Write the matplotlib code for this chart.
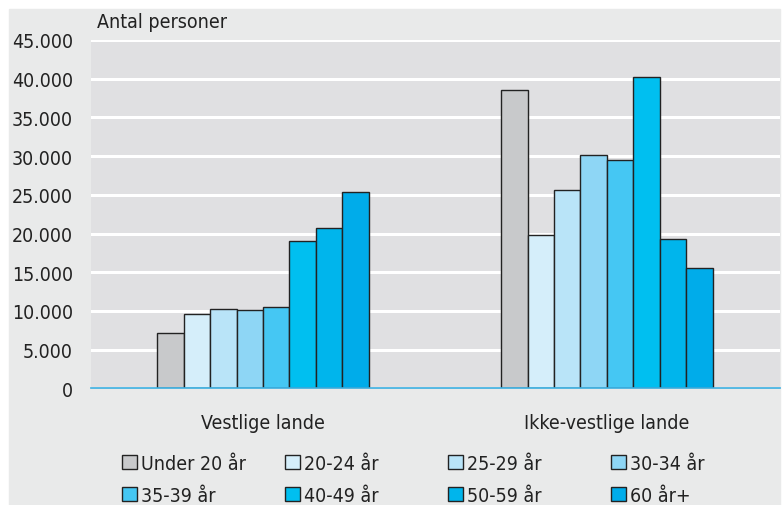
import matplotlib.pyplot as plt
import numpy as np
from matplotlib.patches import Rectangle

plt.rcParams['font.family'] = ['DejaVu Sans']
plt.rcParams['font.stretch'] = 'condensed'

# data
groups = ["Vestlige lande", "Ikke-vestlige lande"]
age_labels = ["Under 20 år", "20-24 år", "25-29 år", "30-34 år",
              "35-39 år", "40-49 år", "50-59 år", "60 år+"]
vestlige = [7200, 9600, 10250, 10150, 10500, 19000, 20700, 25300]
ikke_vestlige = [38500, 19800, 25600, 30100, 29500, 40200, 19300, 15500]
colors = ["#c8c9cb", "#d5eefa", "#b9e4f8", "#8ed6f5",
          "#45c7f3", "#00bff0", "#00b5ec", "#00acea"]
yticks = np.arange(0, 45001, 5000)

fs = 14

fig = plt.figure(figsize=(7.83, 5.06), dpi=100, facecolor="white")
# light gray panel behind everything (thin white strip top, left, right)
fig.patches.append(Rectangle((9 / 783, 0), 771 / 783, (506 - 10) / 506,
                             transform=fig.transFigure, color="#e9eaea", zorder=-10))

ax = fig.add_axes([91 / 783, 116.7 / 506, 689 / 783, 348.3 / 506])
ax.set_facecolor("#e0e0e2")

x = np.arange(len(groups))
w = 0.077
n = len(age_labels)
bars = []
for i in range(n):
    vals = [vestlige[i], ikke_vestlige[i]]
    b = ax.bar(x + (i - (n - 1) / 2) * w, vals, width=w, color=colors[i],
               edgecolor="#222222", linewidth=1.0, zorder=3)
    bars.append(b)

ax.set_xlim(-0.5, 1.503)
ax.set_ylim(0, 45000)
ax.set_yticks(yticks)
ax.set_yticklabels([f"{v:,}".replace(",", ".") for v in yticks], fontsize=fs, color="#222222")
ax.tick_params(axis="y", length=0, pad=13)
ax.set_xticks(x)
ax.set_xticklabels(groups, fontsize=fs, color="#222222")
ax.tick_params(axis="x", length=0, pad=18)
ax.yaxis.grid(True, color="white", linewidth=2.2, zorder=1)
ax.set_axisbelow(True)
for s in ["top", "right", "left"]:
    ax.spines[s].set_visible(False)
ax.spines["bottom"].set_color("#3aaee0")
ax.spines["bottom"].set_linewidth(1.2)
ax.spines["bottom"].set_zorder(4)

fig.text(97 / 783, 1 - 22 / 506, "Antal personer", fontsize=fs, color="#222222",
         va="center", ha="left")

# legend: 4 columns x 2 rows
col_x = [122, 285, 448, 611]
for c in range(4):
    idx = [c, c + 4]
    fig.legend([bars[i] for i in idx], [age_labels[i] for i in idx],
               loc="upper left", bbox_to_anchor=(col_x[c] / 783, 1 - 455 / 506),
               frameon=False, fontsize=fs, handlelength=0.75, handleheight=0.75,
               handletextpad=0.25, labelspacing=0.65, borderaxespad=0, borderpad=0,
               labelcolor="#222222")

fig.savefig("out.png", dpi=100, facecolor=fig.get_facecolor())
